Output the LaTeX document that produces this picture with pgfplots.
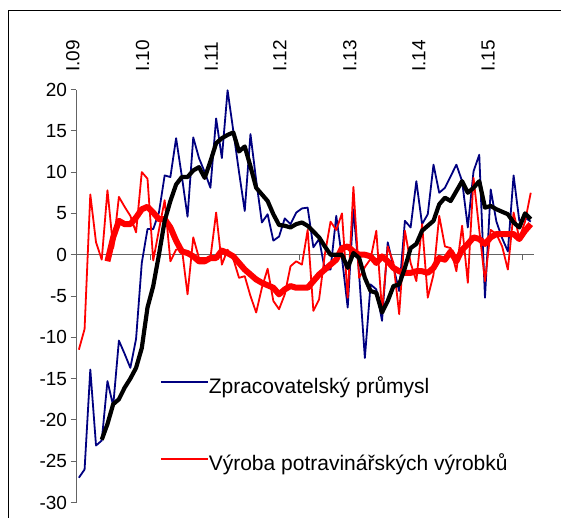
\documentclass[border=0pt]{standalone}
\usepackage{pgfplots}
\usepackage{pgfplotstable}
\pgfplotsset{compat=1.18}
\usepackage{fontspec}
\setmainfont{Liberation Sans}
\definecolor{cblue}{RGB}{0,0,128}
\definecolor{cred}{RGB}{255,0,0}
\definecolor{axgray}{RGB}{100,100,100}

\pgfplotstableread{
x y
0 -27.0
1 -26.0
2 -13.9
3 -23.1
4 -22.5
5 -15.3
6 -18.3
7 -10.4
8 -12.0
9 -13.7
10 -10.2
11 -1.0
12 3.1
13 3.1
14 5.1
15 9.6
16 9.4
17 14.1
18 9.5
19 4.6
20 14.2
21 11.7
22 10.0
23 8.1
24 16.5
25 11.7
26 19.9
27 15.0
28 10.0
29 5.3
30 14.6
31 9.0
32 3.9
33 4.9
34 1.7
35 2.2
36 4.4
37 3.7
38 5.1
39 5.6
40 5.7
41 0.9
42 1.9
43 -1.8
44 -1.8
45 4.7
46 -0.4
47 -6.4
48 5.5
49 -2.4
50 -12.5
51 -3.6
52 -4.2
53 -8.0
54 1.5
55 -1.5
56 -4.4
57 4.1
58 3.3
59 8.9
60 3.7
61 4.9
62 10.9
63 7.5
64 8.1
65 9.5
66 10.9
67 8.9
68 3.3
69 10.1
70 12.1
71 -5.2
72 7.9
73 4.0
74 2.0
75 0.4
76 9.6
77 4.1
78 4.5
79 4.0
}\tblue

\pgfplotstableread{
x y
0 -11.5
1 -9.0
2 7.3
3 1.5
4 -0.6
5 7.8
6 0.8
7 7.0
8 5.8
9 4.7
10 2.7
11 10.0
12 9.2
13 -0.7
14 3.0
15 6.6
16 -0.8
17 0.6
18 0.8
19 -4.8
20 2.1
21 -0.4
22 -0.4
23 -0.4
24 5.1
25 -1.2
26 0.6
27 -0.5
28 -2.8
29 -2.6
30 -5.0
31 -7.0
32 -4.0
33 -1.7
34 -5.6
35 -6.6
36 -4.8
37 -1.4
38 -0.8
39 -1.2
40 3.0
41 -6.8
42 -5.4
43 0.0
44 4.0
45 3.0
46 5.0
47 -5.2
48 8.2
49 -2.8
50 -1.5
51 -0.5
52 2.9
53 -6.8
54 1.0
55 -1.0
56 -7.2
57 2.9
58 -1.0
59 -3.2
60 3.7
61 -5.2
62 -2.4
63 4.7
64 1.0
65 0.8
66 -2.0
67 3.5
68 -3.4
69 9.3
70 3.0
71 -3.2
72 3.0
73 2.5
74 1.0
75 -1.8
76 5.1
77 2.0
78 4.0
79 7.5
}\tred

\pgfplotstableread{
x y
4 -22.4
5 -20.5
6 -18.1
7 -17.5
8 -16.1
9 -15.0
10 -13.7
11 -11.3
12 -6.4
13 -3.8
14 0.0
15 4.1
16 6.5
17 8.5
18 9.4
19 9.4
20 10.2
21 10.6
22 9.3
23 11.3
24 13.5
25 14.1
26 14.5
27 14.8
28 12.5
29 13.1
30 10.7
31 8.1
32 7.3
33 6.5
34 4.9
35 3.6
36 3.5
37 3.3
38 3.7
39 3.9
40 3.5
41 2.8
42 2.1
43 1.0
44 0.0
45 0.0
46 0.0
47 -1.6
48 0.2
49 -0.4
50 -2.8
51 -4.4
52 -4.6
53 -7.0
54 -5.6
55 -3.8
56 -3.6
57 -1.6
58 0.8
59 1.3
60 2.9
61 3.5
62 4.1
63 6.1
64 6.9
65 6.5
66 7.7
67 8.9
68 7.5
69 8.1
70 8.9
71 5.7
72 5.9
73 5.5
74 5.2
75 4.9
76 3.9
77 3.3
78 5.0
79 4.3
}\tblack

\pgfplotstableread{
x y
5 -0.8
6 2.1
7 4.1
8 3.7
9 3.7
10 4.5
11 5.5
12 5.8
13 5.1
14 4.3
15 4.3
16 3.3
17 1.7
18 0.4
19 0.2
20 -0.2
21 -0.8
22 -0.8
23 -0.4
24 -0.4
25 0.5
26 0.2
27 -0.2
28 -1.0
29 -1.8
30 -2.4
31 -3.0
32 -3.4
33 -3.7
34 -4.0
35 -4.8
36 -4.2
37 -3.8
38 -4.0
39 -4.0
40 -4.0
41 -3.2
42 -2.4
43 -1.8
44 -1.2
45 -0.6
46 0.8
47 1.0
48 0.4
49 0.0
50 0.0
51 -0.2
52 -1.0
53 -0.2
54 -0.8
55 -1.6
56 -2.0
57 -2.2
58 -2.2
59 -2.0
60 -2.0
61 -2.2
62 -1.6
63 -0.4
64 -0.6
65 0.4
66 -0.8
67 0.6
68 1.3
69 2.1
70 1.9
71 1.3
72 2.1
73 2.5
74 2.5
75 2.5
76 2.5
77 1.9
78 2.9
79 3.7
}\tredt

\begin{document}
\begin{tikzpicture}
\useasboundingbox (0,0) rectangle (561bp,518bp);
\draw[line width=1bp] (8bp,0) -- (8bp,507bp) -- (561bp,507bp);
\begin{axis}[
  at={(76bp,15.5bp)}, anchor=south west,
  scale only axis, width=457.6bp, height=413bp,
  xmin=-0.5, xmax=79.5, ymin=-30, ymax=20,
  axis y line*=left, axis x line*=middle,
  axis line style={draw=axgray, line width=1bp, -},
  ytick={-30,-25,...,20},
  xtick={-0.5,12.5,25.5,38.5,51.5,64.5,77.5},
  xticklabels={},
  tick align=outside, major tick length=5.5bp,
  tick style={draw=axgray, line width=1bp},
  yticklabel style={font=\fontsize{19bp}{22bp}\selectfont, /pgf/number format/assume math mode=true},
  clip=false,
  legend style={at={(rel axis cs:0.1836,0.184)}, anchor=west, draw=none, fill=none,
    inner sep=0pt, outer sep=0pt, font=\fontsize{21bp}{24bp}\selectfont, row sep=58bp,
    nodes={inner sep=0pt, text height=15bp, text depth=4bp},
    /tikz/every even column/.append style={column sep=5bp}},
  legend image code/.code={\draw[#1] (0bp,6bp) -- (47bp,6bp);},
  legend cell align=left,
  line join=round,
]
\addplot[cblue, line width=1.8bp] table {\tblue};
\addlegendentry{Zpracovatelský průmysl}
\addplot[cred, line width=1.8bp] table {\tred};
\addlegendentry{Výroba potravinářských výrobků}
\addplot[cred, line width=6bp, forget plot] table {\tredt};
\addplot[black, line width=4.2bp, forget plot] table {\tblack};
\foreach \p/\l in {0.1/I.09, 12.3/I.10, 24.3/I.11, 36.3/I.12, 48.5/I.13, 60.6/I.14, 72.7/I.15}{
  \edef\tmp{\noexpand\node[rotate=90, anchor=base west, inner sep=0pt, font=\noexpand\fontsize{19bp}{22bp}\noexpand\selectfont] at (axis cs:\p,22.1) {\l};}
  \tmp
}
\end{axis}
\end{tikzpicture}
\end{document}
